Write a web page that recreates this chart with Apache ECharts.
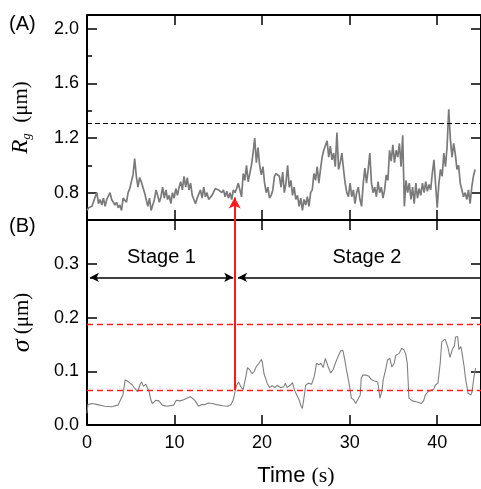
<!DOCTYPE html>
<html>
<head>
<meta charset="utf-8">
<script src="https://cdn.jsdelivr.net/npm/echarts@6.0.0/dist/echarts.min.js"></script>
<style>
html,body{margin:0;padding:0;background:#fff;}
#c{width:481px;height:489px;}
</style>
</head>
<body>
<div id="c"></div>
<script>
// ---- data ----
const rgStep = 0.1878; // sampling interval (s) of the Rg trace
const rgValues = [
0.67,0.69,0.70,0.70,0.71,0.77,0.80,0.72,0.75,0.71,
0.76,0.70,0.75,0.76,0.80,0.75,0.73,0.71,0.73,0.69,
0.71,0.67,0.76,0.77,0.73,0.80,0.83,0.84,0.93,1.05,
0.92,0.84,0.91,0.88,0.84,0.80,0.75,0.70,0.76,0.67,
0.71,0.75,0.82,0.78,0.73,0.77,0.84,0.76,0.82,0.75,
0.78,0.72,0.80,0.76,0.83,0.78,0.84,0.88,0.82,0.92,
0.84,0.91,0.82,0.87,0.78,0.75,0.72,0.76,0.75,0.82,
0.76,0.84,0.77,0.80,0.75,0.76,0.78,0.78,0.83,0.84,
0.82,0.83,0.80,0.82,0.77,0.81,0.76,0.80,0.75,0.82,
0.80,0.83,0.87,0.82,0.77,0.94,0.89,1.00,0.88,0.94,
1.00,1.09,1.20,1.02,1.13,1.00,0.93,0.99,0.87,0.80,
0.84,0.76,0.78,0.82,0.92,0.94,0.95,0.92,0.84,0.95,
0.80,0.87,1.00,0.84,0.89,0.78,0.84,0.75,0.78,0.70,
0.76,0.67,0.75,0.71,0.77,0.70,0.80,0.82,0.94,0.89,
0.99,0.87,0.97,1.06,1.11,1.11,1.18,1.06,1.14,1.04,
1.09,0.99,1.24,0.97,1.02,1.09,0.97,0.87,0.80,0.77,
0.87,0.77,0.82,0.72,0.80,0.84,0.75,0.70,0.87,0.98,
0.87,0.97,1.09,0.87,0.80,0.84,0.77,0.88,0.80,0.84,
0.76,0.82,0.93,0.89,1.11,1.03,1.15,1.02,1.11,1.06,
1.16,0.99,1.22,0.70,0.89,0.80,0.87,0.75,0.84,0.72,
0.87,0.76,0.83,0.78,0.87,0.80,0.88,0.81,0.86,0.82,
0.94,1.04,0.86,0.69,0.87,0.97,0.92,1.09,0.99,1.14,
1.41,1.19,1.06,1.16,1.08,0.97,1.00,0.87,0.82,0.77,
0.80,0.75,0.82,0.72,0.84,0.92,0.97
];
const sigmaTime = [
0.0,0.1,0.15,0.6,1.2,2.03,2.8,3.53,3.72,4.1,4.36,4.6,4.85,5.2,5.41,5.78,6.08,6.23,6.45,6.72,
6.9,7.1,7.29,7.47,7.85,8.2,8.6,9.16,9.9,10.2,10.6,11.04,11.4,11.8,12.1,12.36,12.73,13.1,13.48,13.86,
14.3,14.8,15.51,16.08,16.45,16.71,16.94,17.09,17.32,17.58,17.84,18.14,18.33,18.59,18.82,19.08,19.34,19.64,19.91,20.02,
20.21,20.39,20.58,20.85,21.15,21.45,21.71,22.09,22.46,22.65,22.84,23.21,23.47,23.70,23.96,24.22,24.45,24.60,24.83,24.98,
25.28,25.65,25.95,26.22,26.48,26.71,26.97,27.23,27.53,27.83,28.10,28.36,28.66,28.96,29.22,29.41,29.71,29.93,30.2,30.46,
30.69,30.95,31.21,31.32,31.51,31.89,32.19,32.45,32.83,33.2,33.32,33.46,33.69,33.84,34.07,34.33,34.59,34.82,35.08,35.27,
35.64,35.94,36.2,36.39,36.58,36.77,37.15,37.71,38.2,38.46,38.65,38.95,39.32,39.59,39.77,40.08,40.34,40.52,40.9,41.2,
41.46,41.73,41.95,42.1,42.33,42.48,42.7,42.85,43.08,43.23,43.53,43.83,43.98,44.2,44.39
];
const sigmaValues = [
0.022,0.038,0.041,0.040,0.038,0.035,0.034,0.037,0.040,0.056,0.084,0.082,0.079,0.074,0.069,0.062,0.076,0.080,0.072,0.076,
0.069,0.062,0.047,0.040,0.046,0.045,0.037,0.035,0.037,0.046,0.045,0.047,0.050,0.053,0.049,0.045,0.035,0.038,0.038,0.041,
0.040,0.038,0.036,0.035,0.038,0.047,0.065,0.074,0.080,0.071,0.066,0.090,0.107,0.103,0.096,0.099,0.109,0.115,0.122,0.118,
0.096,0.093,0.078,0.070,0.073,0.070,0.074,0.070,0.071,0.078,0.070,0.074,0.079,0.065,0.056,0.047,0.035,0.031,0.056,0.074,
0.078,0.076,0.090,0.115,0.112,0.115,0.107,0.124,0.109,0.097,0.103,0.115,0.127,0.138,0.139,0.124,0.096,0.078,0.050,0.047,
0.040,0.048,0.056,0.087,0.093,0.093,0.091,0.085,0.082,0.080,0.068,0.050,0.064,0.085,0.101,0.121,0.124,0.108,0.115,0.130,
0.133,0.143,0.140,0.133,0.115,0.050,0.045,0.043,0.040,0.046,0.056,0.062,0.065,0.066,0.074,0.078,0.115,0.155,0.160,0.146,
0.126,0.141,0.147,0.164,0.165,0.141,0.146,0.133,0.108,0.087,0.059,0.056,0.062,0.090,0.106
];
const timeTicks = [0, 10, 20, 30, 40];
const rgTicks = [0.8, 1.2, 1.6, 2.0];
const rgMinorTicks = [1.0, 1.4, 1.8];
const sigmaTicks = [0.0, 0.1, 0.2, 0.3];
const rgThreshold = 1.31;
const sigmaThresholds = [0.188, 0.064];
const transitionTime = 16.87;
const transitionSigma = 0.065;
const transitionRg = 0.765;
const stageLevel = 0.275;
const stage1Range = [0.33, 16.7];
const stage2Range = [17.25, 45];
const stageLabels = ['Stage 1', 'Stage 2'];

// ---- chart ----
const rgData = rgValues.map((v, i) => [i * rgStep, v]);
const sigmaData = sigmaTime.map((t, i) => [t, sigmaValues[i]]);

const X_MIN = 0, X_MAX = 45;
const RG_MIN = 0.6, RG_MAX = 2.1;
const SG_MIN = 0, SG_MAX = 0.382;
const black = '#000';
const tickFont = { fontFamily: 'Liberation Sans, Arial, sans-serif', fontSize: 18, color: black };

function xAx(grid, pos, showLabel) {
  return {
    type: 'value', gridIndex: grid, position: pos, min: X_MIN, max: X_MAX,
    axisLine: { show: true, onZero: false, lineStyle: { color: black, width: 2 } },
    axisTick: { show: true, inside: true, length: 10, customValues: timeTicks.slice(1), lineStyle: { color: black, width: 1.5 } },
    axisLabel: Object.assign({ show: showLabel, margin: 9, customValues: timeTicks, formatter: v => String(v) }, tickFont),
    splitLine: { show: false }
  };
}
function yAx(grid, pos, min, max, ticks, showLabel, tickLen, lineShow) {
  return {
    type: 'value', gridIndex: grid, position: pos, min: min, max: max,
    axisLine: { show: lineShow, onZero: false, lineStyle: { color: black, width: 2 } },
    axisTick: { show: true, inside: true, length: tickLen, customValues: ticks, lineStyle: { color: black, width: 1.5 } },
    axisLabel: Object.assign({ show: showLabel, margin: 8, customValues: ticks, formatter: v => v.toFixed(1) }, tickFont),
    splitLine: { show: false }
  };
}

const yRg = yAx(0, 'left', RG_MIN, RG_MAX, rgTicks, true, 10, true);
yRg.name = '{r|R}{g|g}{u|  (μm)}';
yRg.nameLocation = 'middle';
yRg.nameRotate = 90;
yRg.nameGap = 54;
yRg.nameTextStyle = {
  color: black,
  rich: {
    r: { fontFamily: 'Liberation Serif', fontStyle: 'italic', fontSize: 23, lineHeight: 24, color: black },
    g: { fontFamily: 'Liberation Serif', fontStyle: 'italic', fontSize: 13, lineHeight: 8, verticalAlign: 'bottom', color: black },
    u: { fontFamily: 'Liberation Serif', fontSize: 21, lineHeight: 24, color: black }
  }
};
const ySg = yAx(1, 'left', SG_MIN, SG_MAX, sigmaTicks, true, 10, true);
ySg.name = '{s|σ}{u| (μm)}';
ySg.nameLocation = 'middle';
ySg.nameRotate = 90;
ySg.nameGap = 52;
ySg.nameTextStyle = {
  color: black,
  rich: {
    s: { fontFamily: 'Liberation Serif', fontStyle: 'italic', fontSize: 26, color: black },
    u: { fontFamily: 'Liberation Serif', fontSize: 21, color: black }
  }
};

const redLine = { color: '#ff1a1a', width: 2, type: 'solid' };
const blackArrow = { color: black, width: 1.5, type: 'solid' };

const option = {
  animation: false,
  backgroundColor: '#fff',
  grid: [
    { left: 87, top: 15, width: 399.4, height: 205 },
    { left: 87, top: 220, width: 399.4, height: 205 }
  ],
  xAxis: [xAx(0, 'bottom', false), xAx(0, 'top', false), xAx(1, 'bottom', true), xAx(1, 'top', false)],
  yAxis: [
    yRg,
    yAx(0, 'right', RG_MIN, RG_MAX, rgTicks, false, 10, true),
    ySg,
    yAx(1, 'right', SG_MIN, SG_MAX, sigmaTicks, false, 10, true),
    yAx(0, 'left', RG_MIN, RG_MAX, rgMinorTicks, false, 5, false)
  ],
  series: [
    {
      type: 'line', xAxisIndex: 0, yAxisIndex: 0, data: rgData, showSymbol: false, symbol: 'none',
      lineStyle: { color: '#7a7a7a', width: 1.7 }, z: 3,
      markLine: {
        silent: true, animation: false, label: { show: false },
        data: [
          [{ coord: [X_MIN, rgThreshold], symbol: 'none', lineStyle: { color: black, width: 1.2, type: [5, 3] } },
           { coord: [X_MAX, rgThreshold], symbol: 'none' }],
          [{ coord: [transitionTime, RG_MIN], symbol: 'none', lineStyle: redLine },
           { coord: [transitionTime, transitionRg], symbol: 'arrow', symbolSize: [9, 11] }]
        ]
      }
    },
    {
      type: 'line', xAxisIndex: 2, yAxisIndex: 2, data: sigmaData, showSymbol: false, symbol: 'none',
      lineStyle: { color: '#808080', width: 1.1 }, z: 3,
      markLine: {
        silent: true, animation: false, label: { show: false },
        data: [
          [{ coord: [X_MIN, sigmaThresholds[0]], symbol: 'none', lineStyle: { color: '#ff2020', width: 1.3, type: [6, 4] } },
           { coord: [X_MAX, sigmaThresholds[0]], symbol: 'none' }],
          [{ coord: [X_MIN, sigmaThresholds[1]], symbol: 'none', lineStyle: { color: '#ff2020', width: 1.3, type: [6, 4] } },
           { coord: [X_MAX, sigmaThresholds[1]], symbol: 'none' }],
          [{ coord: [transitionTime, transitionSigma], symbol: 'none', lineStyle: redLine },
           { coord: [transitionTime, SG_MAX], symbol: 'none' }],
          [{ coord: [stage1Range[0], stageLevel], symbol: 'arrow', symbolSize: [7, 9], lineStyle: blackArrow },
           { coord: [stage1Range[1], stageLevel], symbol: 'arrow', symbolSize: [7, 9] }],
          [{ coord: [stage2Range[0], stageLevel], symbol: 'arrow', symbolSize: [7, 9], lineStyle: blackArrow },
           { coord: [stage2Range[1], stageLevel], symbol: 'none' }]
        ]
      }
    }
  ],
  graphic: [
    { type: 'text', left: 9, top: 14, style: { text: '(A)', font: '20px "Liberation Sans", Arial, sans-serif', fill: black } },
    { type: 'text', left: 9, top: 216, style: { text: '(B)', font: '20px "Liberation Sans", Arial, sans-serif', fill: black } },
    { type: 'text', x: 161.5, y: 257, style: { text: stageLabels[0], font: '20px "Liberation Sans", Arial, sans-serif', fill: black, align: 'center', verticalAlign: 'middle' } },
    { type: 'text', x: 367, y: 257, style: { text: stageLabels[1], font: '20px "Liberation Sans", Arial, sans-serif', fill: black, align: 'center', verticalAlign: 'middle' } },
    { type: 'text', x: 296, y: 476, style: {
        text: '{a|Time }{b|(s)}', align: 'center', verticalAlign: 'middle', fill: black,
        rich: {
          a: { fontFamily: 'Liberation Sans', fontSize: 22, fill: black },
          b: { fontFamily: 'Liberation Serif', fontSize: 22, fill: black }
        }
    } }
  ]
};

const chart = echarts.init(document.getElementById('c'), null, { renderer: 'canvas' });
chart.setOption(option);
</script>
</body>
</html>
